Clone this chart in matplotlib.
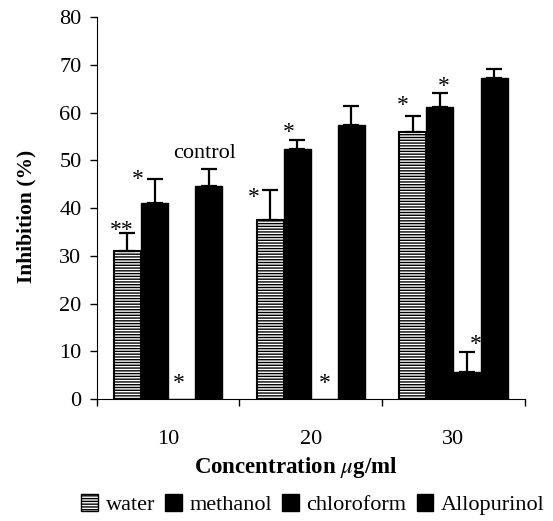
import matplotlib
matplotlib.use("Agg")
import matplotlib.pyplot as plt
import numpy as np
from matplotlib.patches import Patch

concentrations = ["10", "20", "30"]
series = ["water", "methanol", "chloroform", "Allopurinol"]

water = [31.0, 37.5, 56.0]
methanol = [41.0, 52.3, 61.2]
chloroform = [0.0, 0.0, 5.7]
allopurinol = [44.6, 57.4, 67.2]

water_err = [3.8, 6.3, 3.3]
methanol_err = [5.1, 1.9, 2.9]
chloroform_err = [0.0, 0.0, 4.1]
allopurinol_err = [3.6, 4.0, 1.9]

# significance marks per bar (series x concentration)
stars = [
    ["**", "*", "*"],
    ["*", "*", "*"],
    ["*", "*", "*"],
    ["", "", ""],
]
# offsets of the marks in points (dx, dy) from the top of each error bar
star_offsets = [
    [(-4, -6), (-12, -13), (-7, 0)],
    [(-12, -8), (-6, -2), (3, -3)],
    [(-2, 4), (0, 4), (6, -2)],
    [(0, 0), (0, 0), (0, 0)],
]

plt.rcParams["font.family"] = ["Liberation Serif", "DejaVu Serif"]
plt.rcParams["mathtext.fontset"] = "stix"
plt.rcParams["hatch.linewidth"] = 1.0

fig = plt.figure(figsize=(5.53, 5.21), dpi=100)
ax = fig.add_axes([0.175, 0.234, 0.774, 0.733])

x = np.arange(len(concentrations))
width = 0.19
values = [water, methanol, chloroform, allopurinol]
errors = [water_err, methanol_err, chloroform_err, allopurinol_err]

for i, (vals, errs) in enumerate(zip(values, errors)):
    pos = x + (i - 1.5) * width
    if i == 0:
        ax.bar(pos, vals, width, color="white", edgecolor="black",
               hatch="------", linewidth=1.5, zorder=2)
    else:
        ax.bar(pos, vals, width, color="black", edgecolor="black",
               linewidth=1.0, zorder=2)
    lower = np.zeros(len(vals))
    errs = np.array(errs)
    has_err = errs > 0
    ax.errorbar(pos[has_err], np.array(vals)[has_err],
                yerr=[lower[has_err], errs[has_err]], fmt="none",
                ecolor="black", elinewidth=1.6, capsize=6, capthick=1.6,
                zorder=3)
    for j in range(len(vals)):
        if not stars[i][j]:
            continue
        dx, dy = star_offsets[i][j]
        ax.annotate(stars[i][j], (pos[j], vals[j] + errs[j]),
                    xytext=(dx, dy), textcoords="offset points",
                    ha="center", va="bottom", fontsize=17)

ctrl_pos = x[0] + 1.5 * width
ax.annotate("control", (ctrl_pos, allopurinol[0] + allopurinol_err[0]),
            xytext=(-3, 4), textcoords="offset points",
            ha="center", va="bottom", fontsize=16)

ax.set_xlim(-0.5, 2.5)
ax.set_ylim(0, 80)
ax.set_yticks(np.arange(0, 81, 10))
ax.set_xticks(x)
ax.set_xticklabels(concentrations)
ax.set_xticks(np.arange(-0.5, 2.6, 1.0), minor=True)
ax.tick_params(axis="x", which="major", length=0, pad=22, labelsize=16)
ax.tick_params(axis="x", which="minor", length=5, width=1, direction="out")
ax.tick_params(axis="y", length=5, width=1, direction="out", labelsize=16, pad=6)
ax.spines["top"].set_visible(False)
ax.spines["right"].set_visible(False)

ax.set_ylabel("Inhibition (%)", fontsize=15.5, fontweight="bold")
ax.yaxis.set_label_coords(-0.14, 0.479)
ax.set_xlabel("Concentration $\\mu$g/ml", fontsize=16.5, fontweight="bold")
ax.xaxis.set_label_coords(0.465, -0.147)

handles = [
    Patch(facecolor="white", edgecolor="black", hatch="------", label=series[0]),
    Patch(facecolor="black", edgecolor="black", label=series[1]),
    Patch(facecolor="black", edgecolor="black", label=series[2]),
    Patch(facecolor="black", edgecolor="black", label=series[3]),
]
fig.legend(handles=handles, loc="center", bbox_to_anchor=(0.566, 0.031),
           ncol=4, frameon=False, fontsize=16, handlelength=0.75,
           handleheight=0.75, handletextpad=0.35, columnspacing=0.45,
           borderaxespad=0)

fig.savefig("out.png", dpi=100)
